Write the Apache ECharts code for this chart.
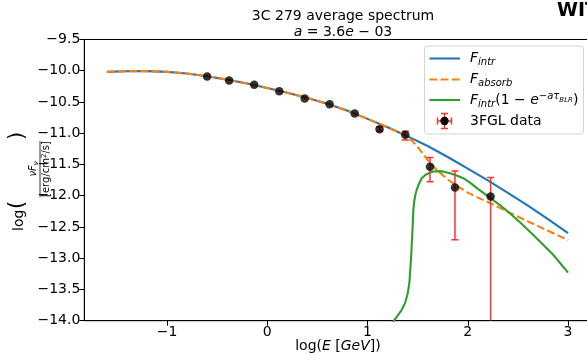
<!DOCTYPE html>
<html>
<head>
<meta charset="utf-8">
<script src="https://cdn.jsdelivr.net/npm/echarts@6/dist/echarts.min.js"></script>
<style>html,body{margin:0;padding:0;background:#fff}#c{width:587px;height:355px}</style>
</head>
<body>
<div id="c"></div>
<script>
// ---- data ----
const xTicks = [-1, 0, 1, 2, 3];
const yTicks = [-14.0, -13.5, -13.0, -12.5, -12.0, -11.5, -11.0, -10.5, -10.0, -9.5];

const intrX = [-1.6,-1.4,-1.2,-1.0,-0.8,-0.6,-0.4,-0.2,0.0,0.2,0.4,0.6,0.8,1.0,1.2,1.4,1.6,1.8,2.0,2.2,2.4,2.6,2.8,3.0];
const intrY = [-10.018,-10.007,-10.006,-10.018,-10.045,-10.088,-10.142,-10.205,-10.275,-10.352,-10.435,-10.53,-10.64,-10.77,-10.905,-11.05,-11.205,-11.38,-11.565,-11.755,-11.955,-12.16,-12.375,-12.60];

const absX = [-1.6,-1.4,-1.2,-1.0,-0.8,-0.6,-0.4,-0.2,0.0,0.2,0.4,0.6,0.8,1.0,1.2,1.3,1.4,1.45,1.5,1.55,1.6,1.65,1.7,1.8,1.9,2.0,2.1,2.2,2.4,2.6,2.8,3.0];
const absY = [-10.018,-10.007,-10.006,-10.018,-10.045,-10.088,-10.142,-10.205,-10.275,-10.352,-10.435,-10.53,-10.64,-10.77,-10.905,-10.975,-11.06,-11.13,-11.22,-11.32,-11.43,-11.515,-11.6,-11.74,-11.85,-11.95,-12.03,-12.10,-12.26,-12.41,-12.56,-12.71];

const blrX = [1.20,1.264,1.30,1.34,1.374,1.40,1.417,1.425,1.433,1.44,1.447,1.452,1.457,1.465,1.475,1.49,1.51,1.54,1.58,1.623,1.66,1.706,1.76,1.822,1.89,1.955,2.022,2.1,2.228,2.32,2.42,2.55,2.687,2.85,3.0];
const blrY = [-14.2,-14.0,-13.92,-13.83,-13.72,-13.57,-13.40,-13.22,-13.03,-12.82,-12.60,-12.42,-12.23,-12.10,-12.00,-11.91,-11.82,-11.72,-11.665,-11.63,-11.612,-11.606,-11.615,-11.64,-11.675,-11.72,-11.79,-11.89,-12.04,-12.15,-12.28,-12.47,-12.68,-12.94,-13.23];

const fglX  = [-0.60,-0.38,-0.13,0.12,0.373,0.622,0.872,1.12,1.377,1.623,1.872,2.228];
const fglY  = [-10.092,-10.156,-10.226,-10.327,-10.444,-10.535,-10.683,-10.935,-11.026,-11.537,-11.869,-12.011];
const fglLo = [-10.10,-10.165,-10.235,-10.337,-10.455,-10.547,-10.697,-10.97,-11.11,-11.777,-12.705,-14.6];
const fglHi = [-10.084,-10.147,-10.217,-10.317,-10.433,-10.523,-10.669,-10.90,-10.967,-11.39,-11.606,-11.707];

// ---- build ----
const zip = (a, b) => a.map((v, i) => [v, b[i]]);
const FONT = 'DejaVu Sans';
const minus = s => String(s).replace('-', '\u2212');
const C_BLUE = '#1f77b4', C_ORANGE = '#ff7f0e', C_GREEN = '#2ca02c', C_RED = '#ff3030';

const chart = echarts.init(document.getElementById('c'), null, {renderer: 'canvas'});

const it = {fontFamily: FONT, fontStyle: 'italic', fontSize: 14, color: '#000', lineHeight: 18};
const nm = {fontFamily: FONT, fontSize: 14, color: '#000', lineHeight: 18};
const sub = {fontFamily: FONT, fontStyle: 'italic', fontSize: 10, color: '#000', lineHeight: 12, verticalAlign: 'bottom'};
const sup = {fontFamily: FONT, fontStyle: 'italic', fontSize: 10, color: '#000', lineHeight: 12, verticalAlign: 'top'};
const supN = {fontFamily: FONT, fontSize: 10, color: '#000', lineHeight: 12, verticalAlign: 'top'};
const ssub = {fontFamily: FONT, fontStyle: 'italic', fontSize: 7, color: '#000', lineHeight: 9, verticalAlign: 'middle'};
const richAll = {i: it, n: nm, s: sub, p: sup, pn: supN, ss: ssub};

const LX = 429.5, LX2 = 460, TX = 470;
const rowY = [58.5, 79.5, 100, 121];

const option = {
  animation: false,
  backgroundColor: '#fff',
  title: [
    {text: '3C 279 average spectrum', left: 338, textAlign: 'center', top: 4,
     textStyle: {fontFamily: FONT, fontSize: 14, fontWeight: 'normal', color: '#000'}},
    {text: '{i|a}{n| = 3.6}{i|e}{n| \u2212 03}', left: 338, textAlign: 'center', top: 18,
     textStyle: {fontFamily: FONT, fontSize: 14, fontWeight: 'normal', color: '#000', rich: {i: it, n: nm}}}
  ],
  grid: {left: 84.3, top: 39.5, width: 507.3, height: 281.2, containLabel: false, outerBoundsMode: 'none',
         show: true, borderColor: '#000', borderWidth: 1, backgroundColor: 'transparent'},
  xAxis: {
    type: 'value', min: -1.825, max: 3.235,
    axisLine: {show: true, onZero: false, lineStyle: {color: '#000', width: 1}},
    axisTick: {show: true, length: 5, customValues: xTicks, lineStyle: {color: '#000', width: 1}},
    axisLabel: {customValues: xTicks, formatter: v => minus(v), fontFamily: FONT, fontSize: 14, color: '#000', margin: 5},
    splitLine: {show: false},
    name: '{n|log(}{i|E}{n| [}{i|GeV}{n|])}', nameLocation: 'middle', nameGap: 17, nameMoveOverlap: false,
    nameTextStyle: {rich: {i: it, n: nm}}
  },
  yAxis: {
    type: 'value', min: -14, max: -9.5, interval: 0.5,
    axisLine: {show: true, onZero: false, lineStyle: {color: '#000', width: 1}},
    axisTick: {show: true, length: 5, lineStyle: {color: '#000', width: 1}},
    axisLabel: {formatter: v => minus(Number(v).toFixed(1)), fontFamily: FONT, fontSize: 14, color: '#000', margin: 4},
    splitLine: {show: false}
  },
  series: [
    {name: 'F_intr', type: 'line', data: zip(intrX, intrY), showSymbol: false, smooth: false,
     lineStyle: {color: C_BLUE, width: 2.1}, z: 2},
    {name: 'F_absorb', type: 'line', data: zip(absX, absY), showSymbol: false, smooth: false,
     lineStyle: {color: C_ORANGE, width: 2.1, type: [7.8, 3.4]}, z: 3},
    {name: 'F_blr', type: 'line', data: zip(blrX, blrY), showSymbol: false, smooth: false,
     lineStyle: {color: C_GREEN, width: 2.1}, z: 4},
    {name: 'err', type: 'custom', z: 5, clip: true,
     data: fglX.map((x, i) => [x, fglLo[i], fglHi[i]]),
     encode: {x: 0, y: [1, 2]},
     renderItem: function (params, api) {
       const x = api.value(0), lo = api.value(1), hi = api.value(2);
       const pt = api.coord([x, hi]), pb = api.coord([x, lo]);
       const cs = params.coordSys;
       const yBot = Math.min(pb[1], cs.y + cs.height);
       const st = {stroke: C_RED, lineWidth: 1.5};
       const ch = [{type: 'line', shape: {x1: pt[0], y1: pt[1], x2: pt[0], y2: yBot}, style: st}];
       if (pt[1] - pb[1] < -3) {
         ch.push({type: 'line', shape: {x1: pt[0] - 3.5, y1: pt[1], x2: pt[0] + 3.5, y2: pt[1]}, style: st});
         if (pb[1] <= cs.y + cs.height) ch.push({type: 'line', shape: {x1: pb[0] - 3.5, y1: pb[1], x2: pb[0] + 3.5, y2: pb[1]}, style: st});
       }
       return {type: 'group', children: ch};
     }},
    {name: '3FGL data', type: 'scatter', data: zip(fglX, fglY), symbol: 'circle', symbolSize: 8.5,
     itemStyle: {color: '#000'}, z: 6}
  ],
  graphic: [
    {type: 'text', left: 557, top: 2, style: {text: 'WIT', fontFamily: FONT, fontWeight: 'bold', fontSize: 19, fill: '#000'}},
    {type: 'group', x: 0, y: 231, rotation: Math.PI / 2, children: [
      {type: 'text', x: 0, y: 19, style: {text: 'log', fontFamily: FONT, fontSize: 14, fill: '#000', verticalAlign: 'middle', align: 'left'}},
      {type: 'text', x: 22, y: 18, style: {text: '(', fontFamily: FONT, fontSize: 21, fill: '#000', verticalAlign: 'middle', align: 'left'}},
      {type: 'text', x: 62, y: 33.5, style: {text: '{i|\u03bdF}{s|\u03bd}', fill: '#000', verticalAlign: 'middle', align: 'center',
        rich: {i: {fontFamily: FONT, fontStyle: 'italic', fontSize: 10, lineHeight: 12, fill: '#000'},
               s: {fontFamily: FONT, fontStyle: 'italic', fontSize: 7, lineHeight: 9, verticalAlign: 'bottom', fill: '#000'}}}},
      {type: 'line', shape: {x1: 34, y1: 40, x2: 90, y2: 40}, style: {stroke: '#000', lineWidth: 0.8}},
      {type: 'text', x: 62, y: 46.5, style: {text: '[erg/cm{p|2}/s]', fontFamily: FONT, fontSize: 10, fill: '#000', verticalAlign: 'middle', align: 'center',
        rich: {p: {fontFamily: FONT, fontSize: 7, lineHeight: 12, verticalAlign: 'top', fill: '#000'}}}},
      {type: 'text', x: 91, y: 18, style: {text: ')', fontFamily: FONT, fontSize: 21, fill: '#000', verticalAlign: 'middle', align: 'left'}}
    ]},
    {type: 'rect', shape: {x: 424.5, y: 46, width: 159, height: 88, r: 3},
     style: {fill: 'rgba(255,255,255,0.85)', stroke: '#d4d4d4', lineWidth: 1}, z: 100},
    {type: 'line', shape: {x1: LX, y1: rowY[0], x2: LX2, y2: rowY[0]}, style: {stroke: C_BLUE, lineWidth: 2.1}, z: 101},
    {type: 'line', shape: {x1: LX, y1: rowY[1], x2: LX2, y2: rowY[1]}, style: {stroke: C_ORANGE, lineWidth: 2.1, lineDash: [7.8, 3.4]}, z: 101},
    {type: 'line', shape: {x1: LX, y1: rowY[2], x2: LX2, y2: rowY[2]}, style: {stroke: C_GREEN, lineWidth: 2.1}, z: 101},
    {type: 'line', shape: {x1: 437.5, y1: rowY[3], x2: 451.5, y2: rowY[3]}, style: {stroke: C_RED, lineWidth: 1.5}, z: 101},
    {type: 'line', shape: {x1: 444.5, y1: rowY[3] - 7.5, x2: 444.5, y2: rowY[3] + 7.5}, style: {stroke: C_RED, lineWidth: 1.5}, z: 101},
    {type: 'line', shape: {x1: 437.5, y1: rowY[3] - 3.5, x2: 437.5, y2: rowY[3] + 3.5}, style: {stroke: C_RED, lineWidth: 1.5}, z: 101},
    {type: 'line', shape: {x1: 451.5, y1: rowY[3] - 3.5, x2: 451.5, y2: rowY[3] + 3.5}, style: {stroke: C_RED, lineWidth: 1.5}, z: 101},
    {type: 'line', shape: {x1: 441, y1: rowY[3] - 7.5, x2: 448, y2: rowY[3] - 7.5}, style: {stroke: C_RED, lineWidth: 1.5}, z: 101},
    {type: 'line', shape: {x1: 441, y1: rowY[3] + 7.5, x2: 448, y2: rowY[3] + 7.5}, style: {stroke: C_RED, lineWidth: 1.5}, z: 101},
    {type: 'circle', shape: {cx: 444.5, cy: rowY[3], r: 4.2}, style: {fill: '#000'}, z: 102},
    {type: 'text', x: TX, y: rowY[0], z: 101, style: {text: '{i|F}{s|intr}', verticalAlign: 'middle', rich: richAll}},
    {type: 'text', x: TX, y: rowY[1], z: 101, style: {text: '{i|F}{s|absorb}', verticalAlign: 'middle', rich: richAll}},
    {type: 'text', x: TX, y: rowY[2], z: 101, style: {text: '{i|F}{s|intr}{n|(1 \u2212 }{i|e}{pn|\u2212}{p|a\u03c4}{ss|BLR}{n|)}', verticalAlign: 'middle', rich: richAll}},
    {type: 'text', x: TX, y: rowY[3], z: 101, style: {text: '3FGL data', fontFamily: FONT, fontSize: 14, fill: '#000', verticalAlign: 'middle'}}
  ]
};
chart.setOption(option);
</script>
</body>
</html>
